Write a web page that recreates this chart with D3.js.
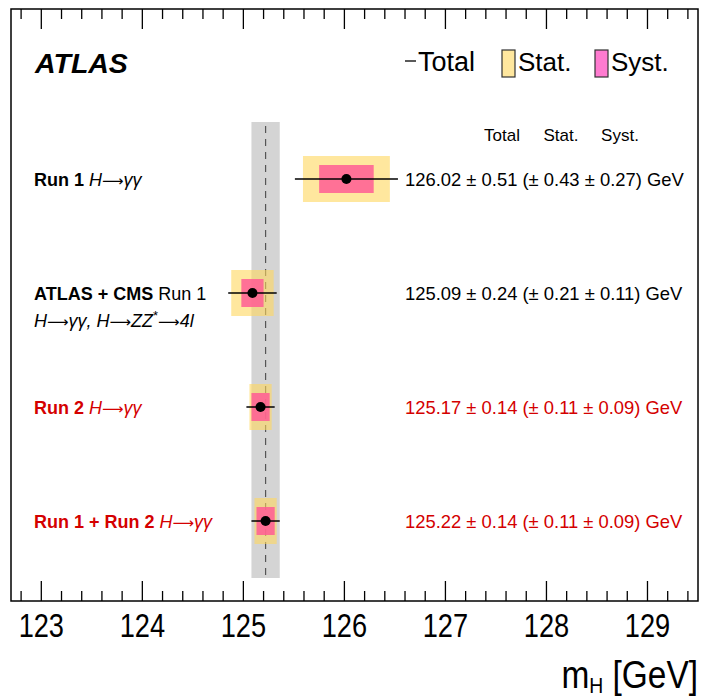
<!DOCTYPE html>
<html>
<head>
<meta charset="utf-8">
<script src="https://cdnjs.cloudflare.com/ajax/libs/d3/7.8.5/d3.min.js"></script>
<style>
  body { margin: 0; background: #fff; }
  svg text { font-family: "Liberation Sans", Arial, Helvetica, sans-serif; }
  .arrow { font-family: "DejaVu Sans", sans-serif; font-style: normal; }
</style>
</head>
<body>
<div id="chart"></div>
<script>
// measurements, top to bottom
var rowNames = ["run1", "combo", "run2", "run12"];
var central  = [126.02, 125.09, 125.17, 125.22];
var totErr   = [0.51, 0.24, 0.14, 0.14];
var statErr  = [0.43, 0.21, 0.11, 0.11];
var systErr  = [0.27, 0.11, 0.09, 0.09];
var isRun2   = [false, false, true, true];
// reference band (Run 1 + Run 2 combination)
var bandCentre = 125.22;
var bandErr = 0.14;
var xDomain = [122.7, 129.5];
var majorTicks = [123, 124, 125, 126, 127, 128, 129];
var columnHeads = ["Total", "Stat.", "Syst."];

(function () {
    var W = 701, H = 700;
    var left = 11, right = 698, top = 9, bottom = 601;

    var red = "#d40000";
    var statColor = "#ffd75e", systColor = "#ff5c94";

    var svg = d3.select("#chart").append("svg")
        .attr("width", W)
        .attr("height", H);

    var x = d3.scaleLinear().domain(xDomain).range([left, right]);
    var y = d3.scalePoint().domain(rowNames).range([179, 521]);

    //grey band + dashed line
    svg.append("rect")
        .attr("x", x(bandCentre - bandErr))
        .attr("y", 122)
        .attr("width", x(bandCentre + bandErr) - x(bandCentre - bandErr))
        .attr("height", 578 - 122)
        .attr("fill", "#d4d4d4");
    svg.append("line")
        .attr("x1", x(bandCentre)).attr("x2", x(bandCentre))
        .attr("y1", 126).attr("y2", 578)
        .attr("stroke", "#555")
        .attr("stroke-width", 1.2)
        .attr("stroke-dasharray", "7,6");

    var rows = rowNames.map(function (r, i) {
        return {name: r, c: central[i], tot: totErr[i], stat: statErr[i], syst: systErr[i], red: isRun2[i]};
    });

    var g = svg.selectAll(".meas").data(rows).enter().append("g").attr("class", "meas");

    g.append("rect")
        .attr("x", function (d) { return x(d.c - d.stat); })
        .attr("y", function (d) { return y(d.name) - 23; })
        .attr("width", function (d) { return x(d.c + d.stat) - x(d.c - d.stat); })
        .attr("height", 46)
        .attr("fill", statColor)
        .attr("fill-opacity", 0.6);
    g.append("rect")
        .attr("x", function (d) { return x(d.c - d.syst); })
        .attr("y", function (d) { return y(d.name) - 14; })
        .attr("width", function (d) { return x(d.c + d.syst) - x(d.c - d.syst); })
        .attr("height", 28)
        .attr("fill", systColor)
        .attr("fill-opacity", 0.85);
    g.append("line")
        .attr("x1", function (d) { return x(d.c - d.tot); })
        .attr("x2", function (d) { return x(d.c + d.tot); })
        .attr("y1", function (d) { return y(d.name); })
        .attr("y2", function (d) { return y(d.name); })
        .attr("stroke", "#000")
        .attr("stroke-width", 1.5);
    g.append("circle")
        .attr("cx", function (d) { return x(d.c); })
        .attr("cy", function (d) { return y(d.name); })
        .attr("r", 5)
        .attr("fill", "#000");

    //value text on the right
    g.append("text")
        .attr("x", 405)
        .attr("y", function (d) { return y(d.name) + 6.5; })
        .attr("fill", function (d) { return d.red ? red : "#000"; })
        .style("font-size", "18.4px")
        .text(function (d) {
            return d.c.toFixed(2) + " \u00b1 " + d.tot.toFixed(2) + " (\u00b1 " + d.stat.toFixed(2) +
                " \u00b1 " + d.syst.toFixed(2) + ") GeV";
        });

    //row labels, mixed bold / italic
    var arrow = ["\u27f6", "arrow"];
    var labelParts = {
        run1:  [[["Run 1", "bold"], [" H", "italic"], arrow, ["\u03b3\u03b3", "italic"]]],
        combo: [[["ATLAS + CMS", "bold"], [" Run 1", "normal"]],
                [["H", "italic"], arrow, ["\u03b3\u03b3, H", "italic"], arrow, ["ZZ", "italic"],
                 ["*", "sup"], ["\u27f6", "arrowdown"], ["4l", "italic"]]],
        run2:  [[["Run 2", "bold"], [" H", "italic"], arrow, ["\u03b3\u03b3", "italic"]]],
        run12: [[["Run 1 + Run 2", "bold"], [" H", "italic"], arrow, ["\u03b3\u03b3", "italic"]]]
    };
    rows.forEach(function (d) {
        labelParts[d.name].forEach(function (line, li) {
            var t = svg.append("text")
                .attr("x", 34)
                .attr("y", y(d.name) + 6.5 + li * 27.5)
                .attr("fill", d.red ? red : "#000")
                .style("font-size", "18px");
            line.forEach(function (p) {
                var s = t.append("tspan").text(p[0]);
                if (p[1] == "bold") s.style("font-weight", "bold");
                if (p[1] == "italic") s.style("font-style", "italic");
                if (p[1] == "arrow" || p[1] == "arrowdown") s.attr("class", "arrow").style("font-size", "15px");
                if (p[1] == "arrowdown") s.attr("dy", 7);
                if (p[1] == "sup") s.style("font-size", "13px").attr("dy", -7);
            });
        });
    });

    //column headers
    var headX = [502, 561, 620];
    svg.selectAll(".colhead").data(columnHeads).enter().append("text")
        .attr("class", "colhead")
        .attr("x", function (d, i) { return headX[i]; })
        .attr("y", 141)
        .attr("text-anchor", "middle")
        .style("font-size", "17px")
        .text(function (d) { return d; });

    //frame
    svg.append("rect")
        .attr("x", left).attr("y", top)
        .attr("width", right - left).attr("height", bottom - top)
        .attr("fill", "none")
        .attr("stroke", "#000")
        .attr("stroke-width", 1.5);

    //ticks top and bottom
    var minor = d3.range(122.8, 129.5, 0.2).map(function (v) { return Math.round(v * 10) / 10; });
    var tickG = svg.append("g");
    minor.forEach(function (v) {
        var major = Math.abs(v - Math.round(v)) < 1e-6;
        var len = major ? 20 : 10;
        tickG.append("line").attr("x1", x(v)).attr("x2", x(v))
            .attr("y1", bottom).attr("y2", bottom - len)
            .attr("stroke", "#000").attr("stroke-width", 1.3);
        tickG.append("line").attr("x1", x(v)).attr("x2", x(v))
            .attr("y1", top).attr("y2", top + len)
            .attr("stroke", "#000").attr("stroke-width", 1.3);
    });

    //tick labels
    svg.selectAll(".ticklab").data(majorTicks).enter().append("text")
        .attr("class", "ticklab")
        .attr("text-anchor", "middle")
        .attr("transform", function (d) { return "translate(" + x(d) + ",637) scale(0.8,1)"; })
        .style("font-size", "34px")
        .text(function (d) { return d; });

    //axis title
    var at = svg.append("text")
        .attr("text-anchor", "end")
        .attr("transform", "translate(698,688) scale(0.88,1)")
        .style("font-size", "38px");
    at.append("tspan").text("m");
    at.append("tspan").text("H").style("font-size", "22px").attr("dy", 5);
    at.append("tspan").text(" [GeV]").attr("dy", -5);

    //ATLAS label
    svg.append("text")
        .attr("x", 35).attr("y", 73)
        .style("font-size", "28.5px")
        .style("font-weight", "bold")
        .style("font-style", "italic")
        .text("ATLAS");

    //legend
    svg.append("line")
        .attr("x1", 405).attr("x2", 416).attr("y1", 61).attr("y2", 61)
        .attr("stroke", "#000").attr("stroke-width", 1.3);
    svg.append("text")
        .attr("x", 418).attr("y", 71)
        .style("font-size", "27px")
        .text("Total");
    var legBoxes = [{x: 502, fill: statColor, op: 0.6, label: "Stat."},
                    {x: 595, fill: "#ff4fc0", op: 0.75, label: "Syst."}];
    legBoxes.forEach(function (b) {
        svg.append("rect")
            .attr("x", b.x).attr("y", 50)
            .attr("width", 13).attr("height", 27)
            .attr("fill", b.fill).attr("fill-opacity", b.op)
            .attr("stroke", "#333").attr("stroke-width", 1.2);
        svg.append("text")
            .attr("x", b.x + 16).attr("y", 71)
            .style("font-size", "26px")
            .text(b.label);
    });
})();
</script>
</body>
</html>
